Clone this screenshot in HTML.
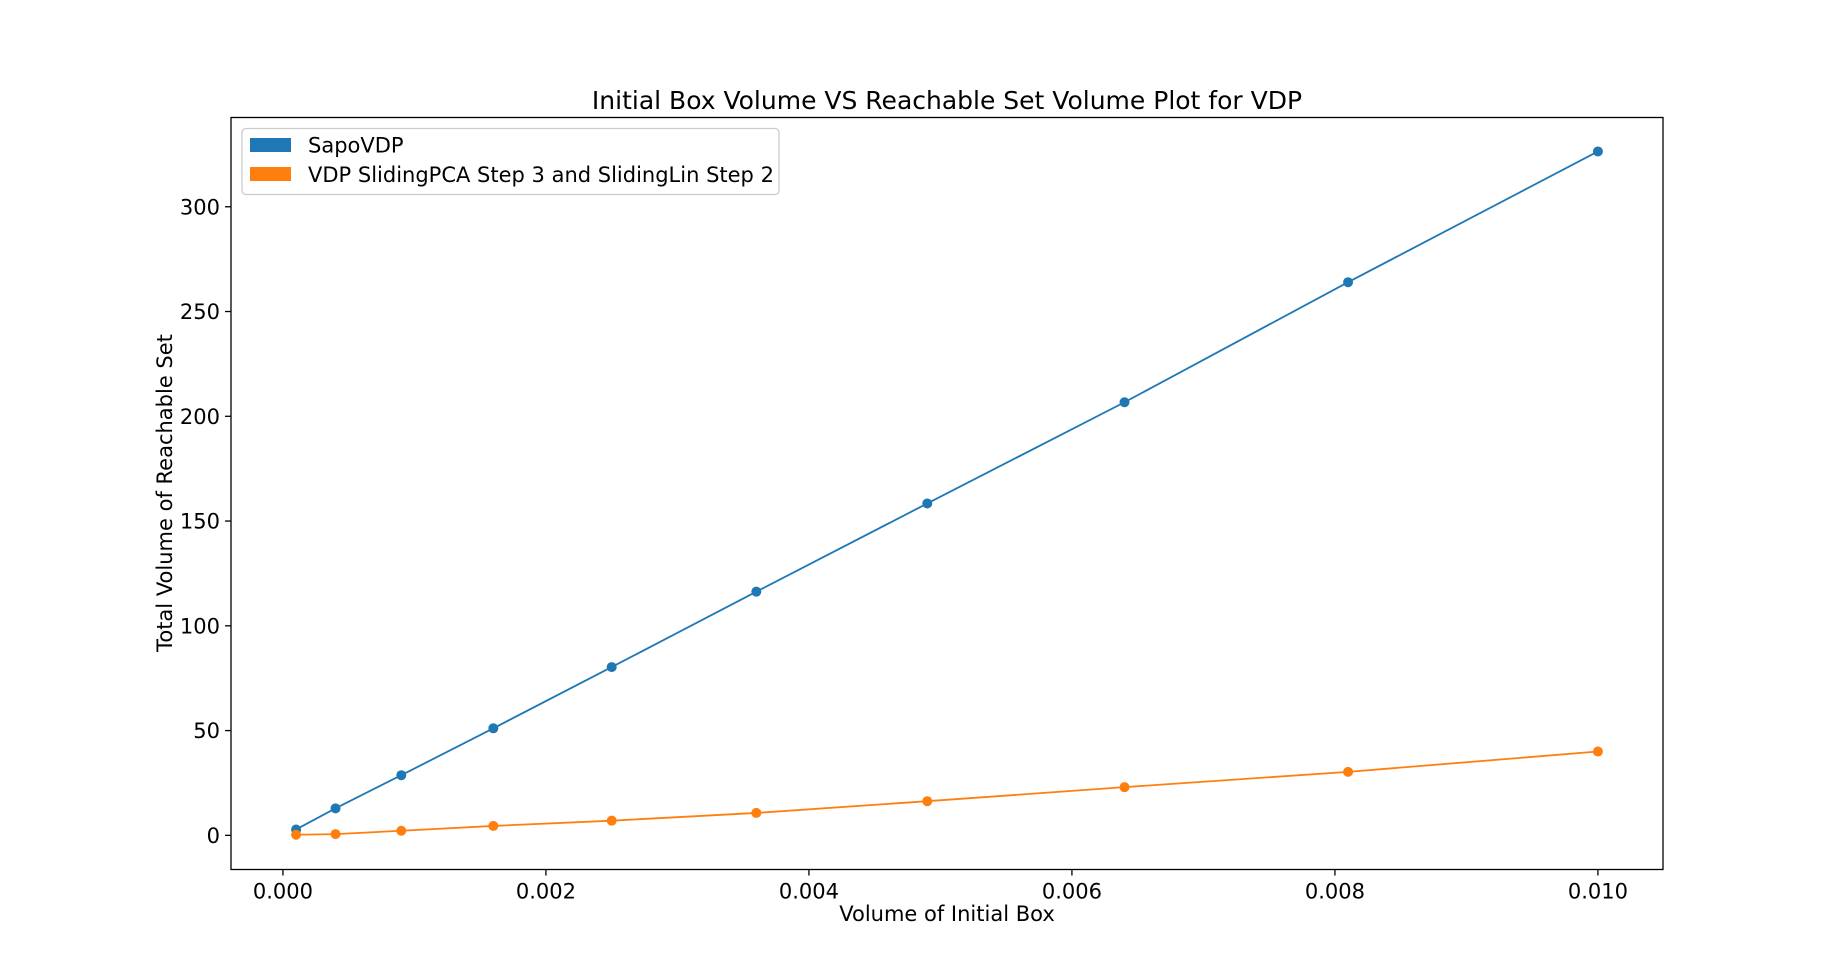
<!DOCTYPE html>
<html><head><meta charset="utf-8"><style>
html,body{margin:0;padding:0;background:#fff;}
svg{display:block;font-family:"DejaVu Sans","Liberation Sans",sans-serif;}
</style></head><body>
<svg id="chart" width="1848" height="977" viewBox="0 0 1848 977">
<rect width="1848" height="977" fill="#fff"/>
<text x="947" y="109" font-size="25" text-anchor="middle">Initial Box Volume VS Reachable Set Volume Plot for VDP</text>
<g id="plot"></g>
<rect x="231" y="117.5" width="1432" height="752" fill="none" stroke="#000" stroke-width="1.3"/>
<text x="947" y="921" font-size="21" text-anchor="middle">Volume of Initial Box</text>
<text transform="translate(172,493) rotate(-90)" font-size="21" text-anchor="middle">Total Volume of Reachable Set</text>
<g>
<rect x="242" y="128.5" width="537" height="66" rx="4" fill="#fff" fill-opacity="0.8" stroke="#ccc" stroke-width="1.3"/>
<rect x="250" y="138" width="41" height="14" fill="#1f77b4"/>
<text x="308" y="152.5" font-size="21">SapoVDP</text>
<rect x="250" y="167" width="41" height="14" fill="#ff7f0e"/>
<text x="308" y="182" font-size="21">VDP SlidingPCA Step 3 and SlidingLin Step 2</text>
</g>
</svg>
<script>
const xValues=[0.0001,0.0004,0.0009,0.0016,0.0025,0.0036,0.0049,0.0064,0.0081,0.01];
const sapoValues=[2.8,12.9,28.7,51.1,80.3,116.3,158.4,206.7,264,326.4];
const slidingValues=[0.3,0.6,2.2,4.5,7,10.7,16.3,23,30.3,40];
const xTicks=[0,0.002,0.004,0.006,0.008,0.010];
const xTickLabels=["0.000","0.002","0.004","0.006","0.008","0.010"];
const yTicks=[0,50,100,150,200,250,300];
const yTickLabels=["0","50","100","150","200","250","300"];

const L=231,R=1663,T=117.5,B=869.5;
const xMin=-0.000395,xMax=0.010495,yMin=-16.3,yMax=342.6;
const xs=v=>L+(v-xMin)/(xMax-xMin)*(R-L);
const ys=v=>B-(v-yMin)/(yMax-yMin)*(B-T);
const NS="http://www.w3.org/2000/svg";
const g=document.getElementById('plot');
function mk(tag,attrs){const e=document.createElementNS(NS,tag);for(const k in attrs)e.setAttribute(k,attrs[k]);g.appendChild(e);return e;}

xTicks.forEach((v,i)=>{
  const t=mk('line',{x1:xs(v),x2:xs(v),y1:B,y2:B+6,stroke:'#000','stroke-width':1.3});
  
  
  const l=mk('text',{x:xs(v),y:B+29,'font-size':21,'text-anchor':'middle'});
  l.textContent=xTickLabels[i];
  
  
});
yTicks.forEach((v,i)=>{
  const t=mk('line',{x1:L-6,x2:L,y1:ys(v),y2:ys(v),stroke:'#000','stroke-width':1.3});
  
  
  const l=mk('text',{x:L-11,y:ys(v)+7.5,'font-size':21,'text-anchor':'end'});
  l.textContent=yTickLabels[i];
  
  
});
function series(vals,color,name){
  const p=mk('polyline',{points:vals.map((v,i)=>xs(xValues[i])+','+ys(v)).join(' '),fill:'none',stroke:color,'stroke-width':1.8});
  
  
  vals.forEach((v,i)=>{
    const c=mk('circle',{cx:xs(xValues[i]),cy:ys(v),r:5,fill:color});
    
    
  });
}
series(sapoValues,'#1f77b4','sapovdp');
series(slidingValues,'#ff7f0e','sliding');
</script>
</body></html>
